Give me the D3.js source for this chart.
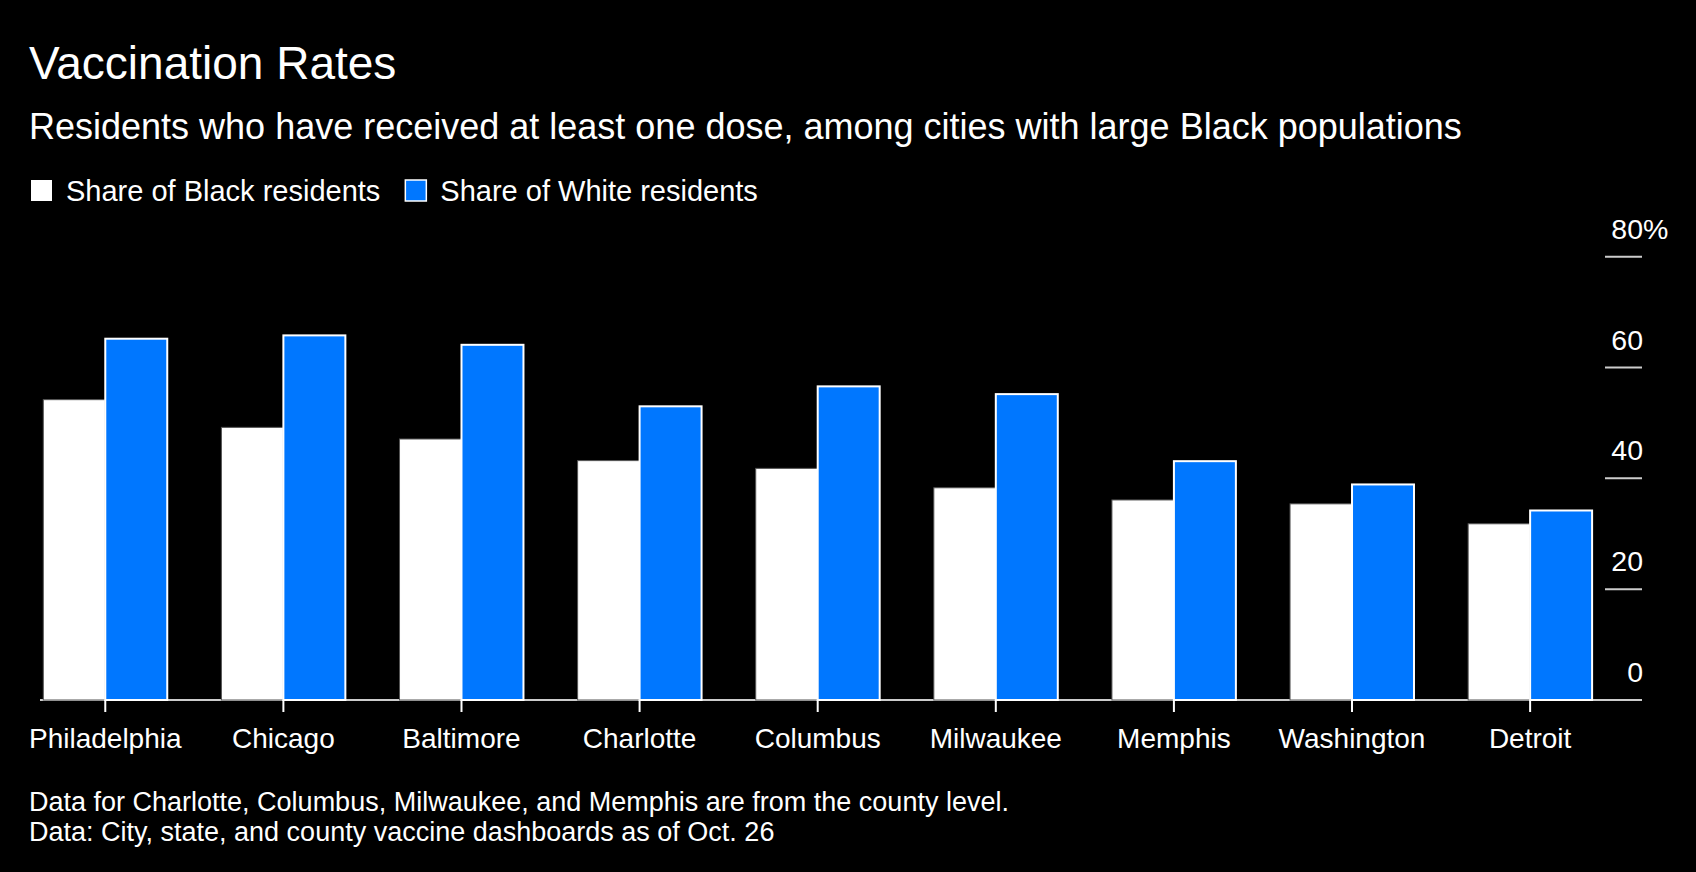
<!DOCTYPE html>
<html>
<head>
<meta charset="utf-8">
<script src="https://cdn.jsdelivr.net/npm/d3@7"></script>
<style>
  html, body { margin: 0; padding: 0; background: #000; }
  svg { display: block; }
  text { font-family: "Liberation Sans", Arial, sans-serif; fill: #fff; }
</style>
</head>
<body>
<svg id="chart" width="1696" height="872"></svg>
<script>
const cities = ["Philadelphia", "Chicago", "Baltimore", "Charlotte", "Columbus", "Milwaukee", "Memphis", "Washington", "Detroit"];
const blackShare = [54.2, 49.2, 47.1, 43.2, 41.8, 38.3, 36.1, 35.4, 31.8];
const whiteShare = [65.2, 65.8, 64.1, 53.0, 56.6, 55.2, 43.1, 38.9, 34.2];
const seriesNames = ["Share of Black residents", "Share of White residents"];
const yTicks = [0, 20, 40, 60, 80];
const titleText = "Vaccination Rates";
const subtitleText = "Residents who have received at least one dose, among cities with large Black populations";
const notes = ["Data for Charlotte, Columbus, Milwaukee, and Memphis are from the county level.",
               "Data: City, state, and county vaccine dashboards as of Oct. 26"];

const colors = ["#ffffff", "#0077ff"];
const strokes = ["#555555", "#ffffff"];

const svg = d3.select("#chart");
svg.append("rect").attr("width", 1696).attr("height", 872).attr("fill", "#000");

// Title block
svg.append("text").attr("x", 29).attr("y", 79).style("font-size", "46px").text(titleText);
svg.append("text").attr("x", 29).attr("y", 139).style("font-size", "36px").text(subtitleText);

// Legend
const legend = svg.append("g");
let lx = 31;
seriesNames.forEach((name, i) => {
  legend.append("rect").attr("x", lx).attr("y", 180).attr("width", 21).attr("height", 21)
    .attr("fill", colors[i]).attr("stroke", i === 1 ? "#ffffff" : "none").attr("stroke-width", 1.5);
  const t = legend.append("text").attr("x", lx + 35).attr("y", 201).style("font-size", "29px").text(name);
  lx = lx + 35 + t.node().getComputedTextLength() + 25;
});

// Scales
const x0 = d3.scaleBand().domain(cities).range([43.3, 1592.1]).paddingInner(0.304).paddingOuter(0);
const x1 = d3.scaleBand().domain([0, 1]).range([0, x0.bandwidth()]).padding(0);
const y = d3.scaleLinear().domain([0, 80]).range([700, 256.7]);

// Y ticks (short lines on the right)
const yg = svg.append("g");
yTicks.forEach(v => {
  if (v > 0) {
    yg.append("line").attr("x1", 1605).attr("x2", 1642).attr("y1", y(v)).attr("y2", y(v))
      .attr("stroke", "#cccccc").attr("stroke-width", 2);
  }
  yg.append("text").attr("x", 1643).attr("y", y(v) - 18).attr("text-anchor", "end")
    .style("font-size", "28.5px").text(v);
  if (v === 80) {
    yg.append("text").attr("x", 1643).attr("y", y(v) - 18).style("font-size", "28.5px").text("%");
  }
});

// Baseline
svg.append("line").attr("x1", 40).attr("x2", 1642).attr("y1", y(0)).attr("y2", y(0))
  .attr("stroke", "#cccccc").attr("stroke-width", 2);

// Bars
const groups = svg.append("g").selectAll("g").data(cities).join("g")
  .attr("transform", d => `translate(${x0(d)},0)`);
groups.each(function(city, ci) {
  const g = d3.select(this);
  [blackShare[ci], whiteShare[ci]].forEach((v, si) => {
    g.append("rect")
      .attr("x", x1(si)).attr("width", x1.bandwidth())
      .attr("y", y(v)).attr("height", y(0) - y(v))
      .attr("fill", colors[si]).attr("stroke", strokes[si]).attr("stroke-width", si === 1 ? 2 : 1);
  });
});

// X axis ticks and labels
cities.forEach(c => {
  const cx = x0(c) + x0.bandwidth() / 2;
  svg.append("line").attr("x1", cx).attr("x2", cx).attr("y1", y(0)).attr("y2", y(0) + 12)
    .attr("stroke", "#ffffff").attr("stroke-width", 2);
  svg.append("text").attr("x", cx).attr("y", 748).attr("text-anchor", "middle")
    .style("font-size", "28px").text(c);
});

// Footnotes
notes.forEach((n, i) => {
  svg.append("text").attr("x", 29).attr("y", 811 + i * 29.5).style("font-size", "27px").text(n);
});
</script>
</body>
</html>
